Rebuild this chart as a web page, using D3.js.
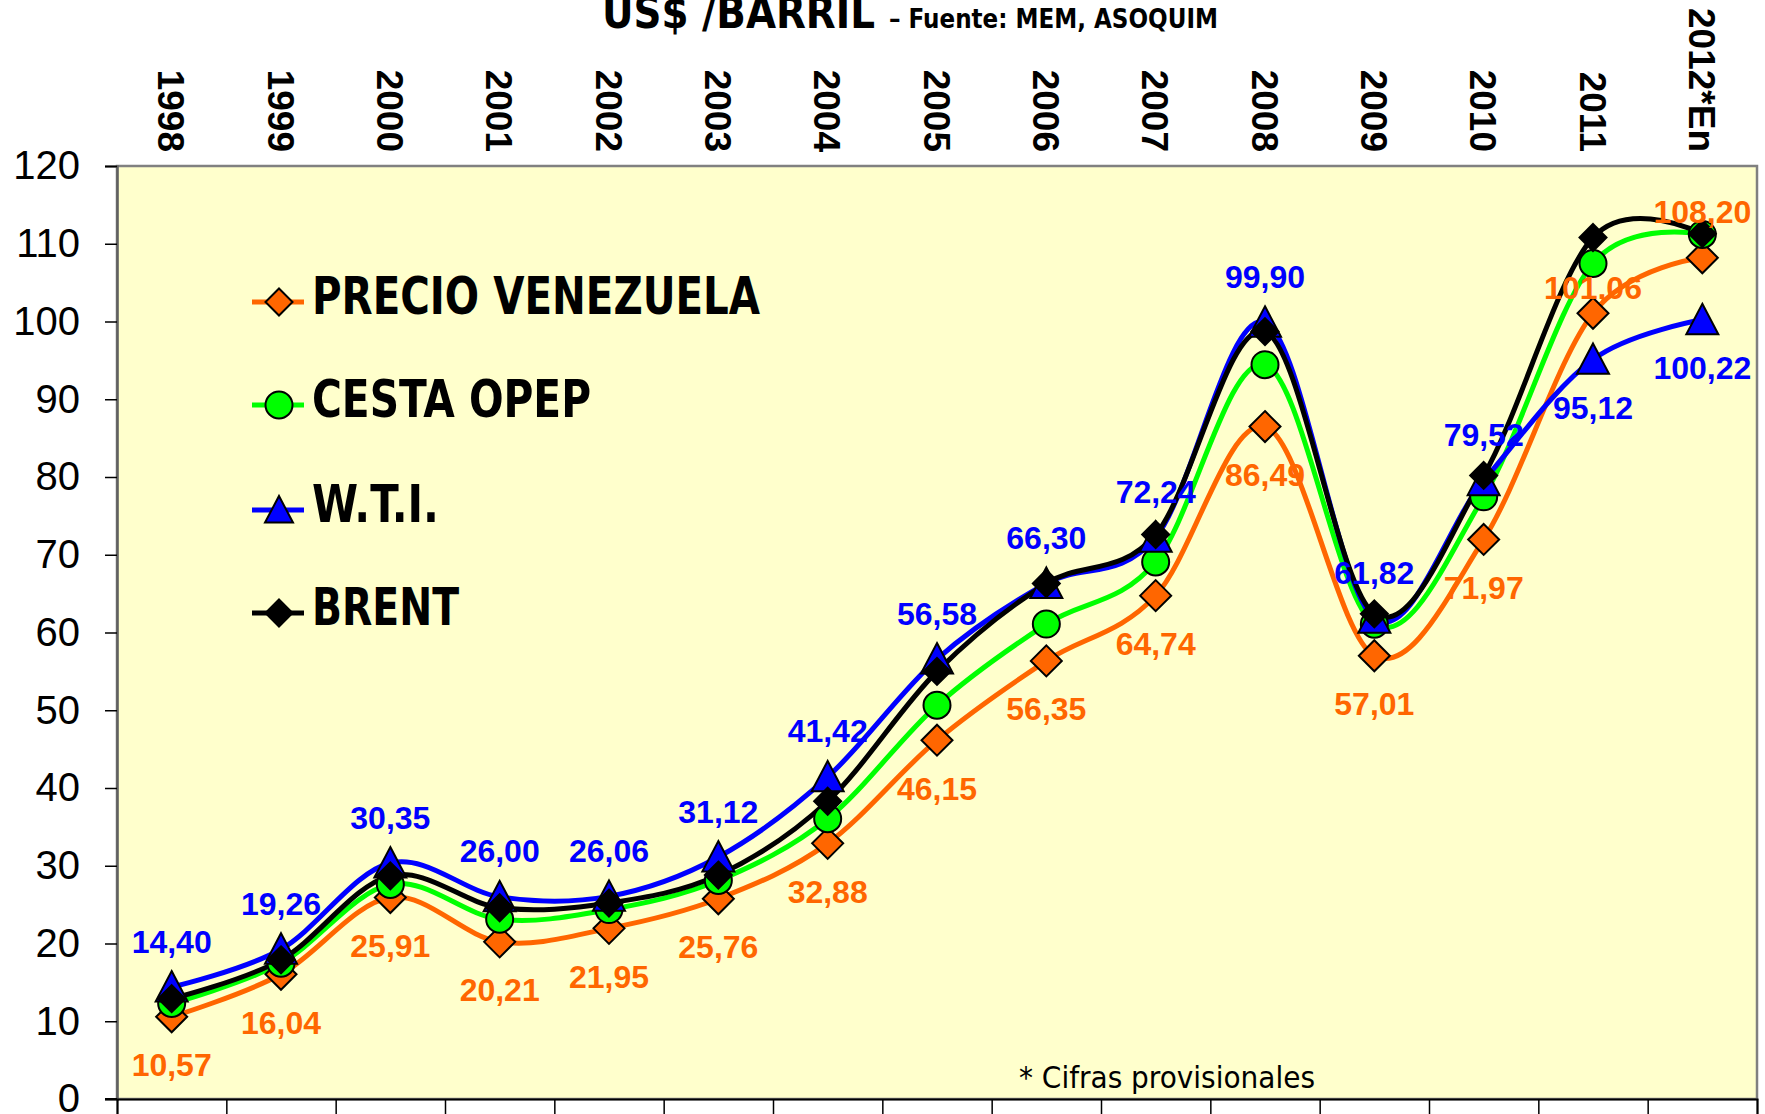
<!DOCTYPE html>
<html>
<head>
<meta charset="utf-8">
<script src="https://cdn.jsdelivr.net/npm/d3@7"></script>
<style>
  html, body { margin: 0; padding: 0; background: #ffffff; }
  svg { display: block; }
</style>
</head>
<body>
<svg id="chart" width="1765" height="1114"></svg>
<script>
// ---- data ----
const years = ["1998","1999","2000","2001","2002","2003","2004","2005","2006","2007","2008","2009","2010","2011","2012*En"];
const precioVenezuela = [10.57, 16.04, 25.91, 20.21, 21.95, 25.76, 32.88, 46.15, 56.35, 64.74, 86.49, 57.01, 71.97, 101.06, 108.20];
const cestaOpep = [12.28, 17.47, 27.60, 23.12, 24.36, 28.10, 36.05, 50.64, 61.08, 69.08, 94.45, 61.06, 77.45, 107.46, 111.2];
const wti = [14.40, 19.26, 30.35, 26.00, 26.06, 31.12, 41.42, 56.58, 66.30, 72.24, 99.90, 61.82, 79.52, 95.12, 100.22];
const brent = [12.9, 17.9, 28.7, 24.6, 25.2, 28.8, 38.3, 55.0, 66.3, 72.6, 98.7, 62.4, 80.2, 110.8, 111.3];
const yTicks = [0, 10, 20, 30, 40, 50, 60, 70, 80, 90, 100, 110, 120];
const seriesNames = ["PRECIO VENEZUELA", "CESTA OPEP", "W.T.I.", "BRENT"];
const titleMain = "US$ /BARRIL";
const titleSource = "\u2013 Fuente: MEM, ASOQUIM";
const footnote = "* Cifras provisionales";

// ---- label placement (style config) ----
const venLabelDy = [48,48,48,48,48,48,48,48,48,48,48,48,48,-26,-46];
const wtiLabelDy = [-46,-46,-46,-46,-46,-46,-46,-46,-46,-46,-46,-46,-46,48,48];

// ---- layout ----
const svg = d3.select("#chart");
const L = 117, R = 1757, T = 166, B = 1099;
const x = d3.scaleBand().domain(years).range([L, R]).padding(0);
const cx = d => x(d) + x.bandwidth() / 2;
const y = d3.scaleLinear().domain([0, 120]).range([B, T]);

const series = [
  { name: seriesNames[0], values: precioVenezuela, color: "#FF6600", marker: "diamond", size: 15.5, fill: "#FF6600" },
  { name: seriesNames[1], values: cestaOpep, color: "#00FF00", marker: "circle", size: 13.5, fill: "#00FF00" },
  { name: seriesNames[2], values: wti, color: "#0000FF", marker: "triangle", size: 16, fill: "#0000FF" },
  { name: seriesNames[3], values: brent, color: "#000000", marker: "diamond", size: 13.5, fill: "#000000" }
];

const condensed = "'DejaVu Sans Condensed', 'DejaVu Sans', sans-serif";
const arial = "'Liberation Sans', Arial, sans-serif";

// plot background
svg.append("rect").attr("x", L).attr("y", T).attr("width", R - L).attr("height", B - T)
  .attr("fill", "#FFFFCC").attr("stroke", "#808080").attr("stroke-width", 2.5);

// y axis
const yAxis = d3.axisLeft(y).tickValues(yTicks).tickSize(12).tickPadding(25).tickFormat(d3.format("d"));
const gy = svg.append("g").attr("transform", `translate(${L},0)`).call(yAxis);
gy.select(".domain").attr("stroke", "#606060").attr("stroke-width", 2.5);
gy.selectAll(".tick line").attr("stroke", "#000").attr("stroke-width", 1.5);
gy.selectAll(".tick text").attr("font-family", arial).attr("font-size", 40).attr("fill", "#000");

// bottom axis with ticks at category boundaries
const xb = d3.scaleLinear().domain([0, years.length]).range([L, R]);
const xAxis = d3.axisBottom(xb).tickValues(d3.range(0, years.length + 1)).tickSize(16).tickFormat("");
const gx = svg.append("g").attr("transform", `translate(0,${B})`).call(xAxis);
gx.select(".domain").attr("stroke", "#000").attr("stroke-width", 2);
gx.selectAll(".tick line").attr("stroke", "#000").attr("stroke-width", 1.5);
svg.append("line").attr("x1", L - 12).attr("x2", L).attr("y1", B).attr("y2", B).attr("stroke", "#000").attr("stroke-width", 2);

// top category labels (rotated)
svg.append("g").selectAll("text").data(years).join("text")
  .attr("transform", d => `translate(${cx(d)},152) rotate(90)`)
  .attr("text-anchor", "end").attr("dy", "0.36em")
  .attr("font-family", arial).attr("font-weight", "bold").attr("font-size", 37)
  .attr("fill", "#000").text(d => d);

// title
svg.append("text").attr("x", 602).attr("y", 28)
  .attr("font-family", condensed).attr("font-weight", "bold").attr("font-size", 44)
  .attr("textLength", 273).attr("lengthAdjust", "spacingAndGlyphs").attr("fill", "#000").text(titleMain);
svg.append("text").attr("x", 889).attr("y", 28)
  .attr("font-family", condensed).attr("font-weight", "bold").attr("font-size", 26)
  .attr("textLength", 329).attr("lengthAdjust", "spacingAndGlyphs").attr("fill", "#000").text(titleSource);

// markers
function markerPath(type, s) {
  if (type === "diamond") return `M0,${-s}L${s},0L0,${s}L${-s},0Z`;
  if (type === "triangle") return `M0,${-s}L${s},${s * 0.9}L${-s},${s * 0.9}Z`;
  return null;
}
function drawMarker(g, type, s, fill, px, py) {
  if (type === "circle") {
    g.append("circle").attr("cx", px).attr("cy", py).attr("r", s)
      .attr("fill", fill).attr("stroke", "#000").attr("stroke-width", 2);
  } else {
    g.append("path").attr("d", markerPath(type, s)).attr("transform", `translate(${px},${py})`)
      .attr("fill", fill).attr("stroke", "#000").attr("stroke-width", 2);
  }
}

// lines
const line = d3.line().x((v, i) => cx(years[i])).y(v => y(v)).curve(d3.curveCardinal.tension(0));
const gl = svg.append("g");
series.forEach(s => {
  gl.append("path").attr("d", line(s.values)).attr("fill", "none")
    .attr("stroke", s.color).attr("stroke-width", 5).attr("stroke-linejoin", "round");
});
const gm = svg.append("g");
series.forEach(s => {
  s.values.forEach((v, i) => drawMarker(gm, s.marker, s.size, s.fill, cx(years[i]), y(v)));
});

// data labels
const fmt = v => d3.format(".2f")(v).replace(".", ",");
const glab = svg.append("g").attr("font-family", arial).attr("font-weight", "bold").attr("font-size", 32).attr("text-anchor", "middle");
precioVenezuela.forEach((v, i) => {
  glab.append("text").attr("x", cx(years[i])).attr("y", y(v) + venLabelDy[i]).attr("dy", "0.36em")
    .attr("fill", "#FF6600").text(fmt(v));
});
wti.forEach((v, i) => {
  glab.append("text").attr("x", cx(years[i])).attr("y", y(v) + wtiLabelDy[i]).attr("dy", "0.36em")
    .attr("fill", "#0000FF").text(fmt(v));
});

// legend
const legendRows = [302, 405, 510, 613];
const legendWidths = [448, 279, 127, 147];
const gleg = svg.append("g");
series.forEach((s, i) => {
  const ry = legendRows[i];
  gleg.append("line").attr("x1", 252).attr("x2", 304).attr("y1", ry).attr("y2", ry)
    .attr("stroke", s.color).attr("stroke-width", 5);
  drawMarker(gleg, s.marker, s.marker === "triangle" ? 14 : 13.5, s.fill, 279, ry);
  gleg.append("text").attr("x", 312).attr("y", ry + 12)
    .attr("font-family", condensed).attr("font-weight", "bold").attr("font-size", 51)
    .attr("textLength", legendWidths[i]).attr("lengthAdjust", "spacingAndGlyphs")
    .attr("fill", "#000").text(s.name);
});

// footnote
svg.append("text").attr("x", 1019).attr("y", 1088)
  .attr("font-family", condensed).attr("font-size", 30)
  .attr("textLength", 296).attr("lengthAdjust", "spacingAndGlyphs")
  .attr("fill", "#000").text(footnote);
</script>
</body>
</html>
